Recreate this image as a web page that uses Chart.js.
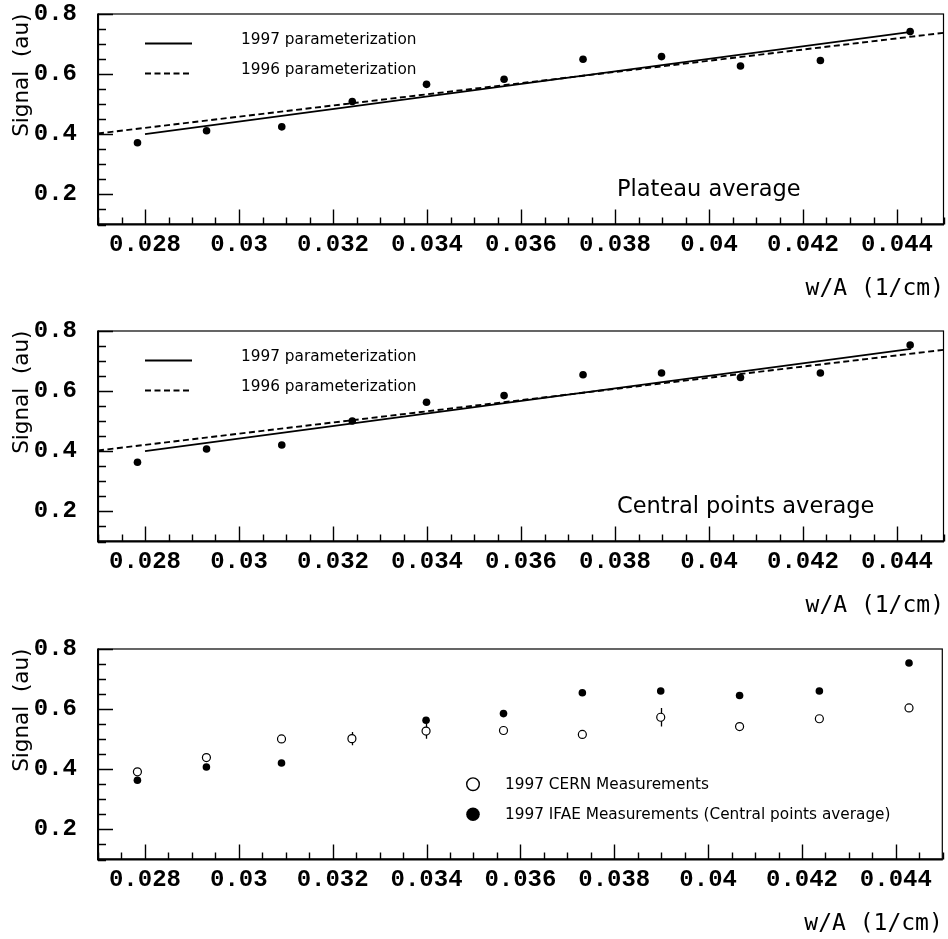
<!DOCTYPE html>
<html><head><meta charset="utf-8">
<script src="https://cdn.jsdelivr.net/npm/chart.js@4.4.1/dist/chart.umd.min.js"></script>
<style>
html,body{margin:0;padding:0;background:#fff;overflow:hidden;width:948px;height:939px}
.p{position:absolute;left:0;width:948px;height:317px}
</style></head><body>
<div class="p" style="top:0px"><canvas id="c1" width="948" height="317"></canvas></div>
<div class="p" style="top:317px"><canvas id="c2" width="948" height="317"></canvas></div>
<div class="p" style="top:635px"><canvas id="c3" width="948" height="317"></canvas></div>
<script>
// ---- data ----
const wA = [0.02784, 0.02931, 0.03091, 0.03241, 0.03399, 0.03564, 0.03732, 0.03899, 0.04067, 0.04237, 0.04428];
const plateauAvg = [0.371, 0.411, 0.424, 0.508, 0.565, 0.582, 0.648, 0.657, 0.626, 0.644, 0.740];
const centralAvg = [0.363, 0.407, 0.420, 0.500, 0.562, 0.584, 0.653, 0.659, 0.644, 0.659, 0.752];
const cernMeas = [0.391, 0.438, 0.500, 0.501, 0.526, 0.528, 0.515, 0.572, 0.541, 0.567, 0.603];
const cernErr = [0, 0, 0, 0.022, 0.025, 0, 0, 0.031, 0, 0, 0];
const par1997X = [0.028, 0.0443];
const par1997Y = [0.400, 0.739];
const par1996X = [0.027, 0.045];
const par1996Y = [0.402, 0.736];
const xTickValues = [0.028, 0.030, 0.032, 0.034, 0.036, 0.038, 0.040, 0.042, 0.044];
const xTickLabels = ["0.028", "0.03", "0.032", "0.034", "0.036", "0.038", "0.04", "0.042", "0.044"];
const yTickValues = [0.2, 0.4, 0.6, 0.8];
const yTickLabels = ["0.2", "0.4", "0.6", "0.8"];
const xTitle = "w/A (1/cm)";
const yTitle = "Signal  (au)";
const legend1997 = "1997 parameterization";
const legend1996 = "1996 parameterization";
const legendCern = "1997 CERN Measurements";
const legendIfae = "1997 IFAE Measurements (Central points average)";

const pts = (xs, ys) => xs.map((x, i) => ({x: x, y: ys[i]}));
const SANS = '"DejaVu Sans", sans-serif';

function frameTicksPlugin(extra) {
  return {
    id: 'frameTicks',
    beforeDatasetsDraw(chart) {
      const ctx = chart.ctx, a = chart.chartArea, xs = chart.scales.x, ys = chart.scales.y;
      ctx.save();
      ctx.strokeStyle = '#000';
      ctx.lineWidth = 1.4;
      ctx.beginPath();
      for (let k = 0; k <= 14; k++) {
        const v = 0.1 + k * 0.05;
        const major = yTickValues.some(t => Math.abs(t - v) < 1e-7);
        const py = Math.round(ys.getPixelForValue(v)) + 0.5;
        ctx.moveTo(a.left, py);
        ctx.lineTo(a.left + (major ? 15 : 8), py);
      }
      for (let k = 0; k <= 36; k++) {
        const v = 0.027 + k * 0.0005;
        const major = xTickValues.some(t => Math.abs(t - v) < 1e-7);
        const px = Math.round(xs.getPixelForValue(v)) + 0.5;
        ctx.moveTo(px, a.bottom);
        ctx.lineTo(px, a.bottom - (major ? 15 : 7));
      }
      ctx.stroke();
      if (extra.errors) {
        ctx.lineWidth = 1.3;
        ctx.beginPath();
        extra.errors.x.forEach((x, i) => {
          const e = extra.errors.e[i];
          if (!e) return;
          const px = Math.round(xs.getPixelForValue(x)) + 0.5;
          ctx.moveTo(px, ys.getPixelForValue(extra.errors.y[i] - e));
          ctx.lineTo(px, ys.getPixelForValue(extra.errors.y[i] + e));
        });
        ctx.stroke();
      }
      ctx.restore();
    },
    afterDraw(chart) {
      const ctx = chart.ctx, a = chart.chartArea;
      ctx.save();
      ctx.strokeStyle = '#000';
      ctx.lineWidth = 1.2;
      ctx.strokeRect(a.left + 0.5, a.top + 0.5, a.right - a.left - 1, a.bottom - a.top - 1);
      ctx.lineWidth = 2;
      ctx.beginPath();
      ctx.moveTo(a.left, a.top); ctx.lineTo(a.left, a.bottom); ctx.lineTo(a.right, a.bottom);
      ctx.stroke();
      ctx.fillStyle = '#000';
      ctx.textBaseline = 'middle';
      ctx.textAlign = 'left';
      if (extra.lineLegend) {
        ctx.lineWidth = 1.9;
        ctx.beginPath(); ctx.moveTo(145, a.top + 30); ctx.lineTo(192, a.top + 30); ctx.stroke();
        ctx.setLineDash([6, 3.5]);
        ctx.beginPath(); ctx.moveTo(145, a.top + 60); ctx.lineTo(192, a.top + 60); ctx.stroke();
        ctx.setLineDash([]);
        ctx.font = '15.3px ' + SANS;
        ctx.fillText(legend1997, 241, a.top + 26.5);
        ctx.fillText(legend1996, 241, a.top + 56.5);
      }
      if (extra.label) {
        ctx.font = '22.5px ' + SANS;
        ctx.fillText(extra.label, 617, a.top + 177);
      }
      if (extra.markLegend) {
        ctx.lineWidth = 1.4;
        ctx.beginPath(); ctx.arc(473, a.top + 135.7, 6.3, 0, Math.PI * 2); ctx.stroke();
        ctx.beginPath(); ctx.arc(473, a.top + 165.7, 6.8, 0, Math.PI * 2); ctx.fill();
        ctx.font = '15.3px ' + SANS;
        ctx.fillText(legendCern, 505, a.top + 137);
        ctx.fillText(legendIfae, 505, a.top + 166.5);
      }
      ctx.restore();
    }
  };
}

function makeChart(id, datasets, extra) {
  return new Chart(document.getElementById(id), {
    type: 'scatter',
    data: {datasets: datasets},
    options: {
      responsive: false,
      animation: false,
      devicePixelRatio: 1,
      layout: {padding: {top: 13.5, right: 4, left: 0, bottom: 0}},
      plugins: {legend: {display: false}, tooltip: {enabled: false}},
      scales: {
        x: {
          type: 'linear', min: 0.027, max: 0.045,
          afterBuildTicks: s => { s.ticks = xTickValues.map(v => ({value: v})); },
          afterFit: s => { s.height = 92.5; s.paddingLeft = 0; s.paddingRight = 0; },
          grid: {display: false}, border: {display: false},
          ticks: {
            callback: (v, i) => xTickLabels[i],
            autoSkip: false, maxRotation: 0, minRotation: 0,
            padding: 0, color: '#000',
            font: {family: '"Liberation Mono", monospace', weight: 'bold', size: 24, lineHeight: 1}
          },
          title: {display: true, text: xTitle, align: 'end', color: '#000',
                  font: {family: '"DejaVu Sans Mono", monospace', size: 23, lineHeight: 1.2},
                  padding: {top: 0, bottom: 14}}
        },
        y: {
          type: 'linear', min: 0.1, max: 0.8,
          afterBuildTicks: s => { s.ticks = yTickValues.map(v => ({value: v})); },
          afterFit: s => { s.width = 98; s.paddingTop = 0; s.paddingBottom = 0; },
          grid: {display: false}, border: {display: false},
          ticks: {
            callback: (v, i) => yTickLabels[i],
            padding: 13, color: '#000',
            font: {family: '"Liberation Mono", monospace', weight: 'bold', size: 24, lineHeight: 1}
          },
          title: {display: true, text: yTitle, align: 'end', color: '#000',
                  font: {family: SANS, size: 21.5, lineHeight: 1.2},
                  padding: {top: 10, bottom: 0}}
        }
      }
    },
    plugins: [frameTicksPlugin(extra)]
  });
}

function fitDatasets(measY) {
  return [
    {data: pts(par1997X, par1997Y), showLine: true, borderColor: '#000', borderWidth: 1.9, pointRadius: 0, fill: false},
    {data: pts(par1996X, par1996Y), showLine: true, borderColor: '#000', borderWidth: 1.9, borderDash: [6, 3.5], pointRadius: 0, fill: false},
    {data: pts(wA, measY), pointRadius: 3.8, pointBackgroundColor: '#000', pointBorderColor: '#000', pointBorderWidth: 0}
  ];
}

makeChart('c1', fitDatasets(plateauAvg), {lineLegend: true, label: 'Plateau average'});
makeChart('c2', fitDatasets(centralAvg), {lineLegend: true, label: 'Central points average'});
makeChart('c3', [
  {data: pts(wA, cernMeas), pointRadius: 4, pointBackgroundColor: '#fff', pointBorderColor: '#000', pointBorderWidth: 1.2},
  {data: pts(wA, centralAvg), pointRadius: 3.8, pointBackgroundColor: '#000', pointBorderColor: '#000', pointBorderWidth: 0}
], {markLegend: true, errors: {x: wA, y: cernMeas, e: cernErr}});
</script>
</body></html>
